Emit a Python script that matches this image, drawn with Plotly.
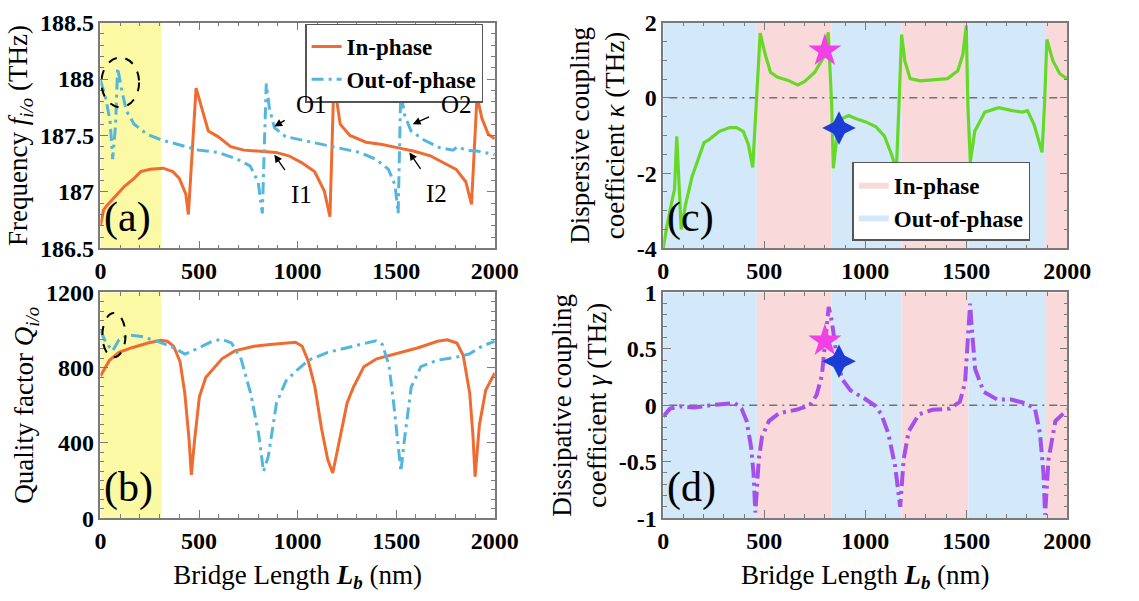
import plotly.graph_objects as go

# ---------------- data ----------------
# (a) resonance frequencies vs bridge length
fi_x = [0, 16, 33, 73, 122, 171, 204, 253, 318, 367, 400, 433, 446, 485, 514, 547, 596, 661, 727, 824,
        890, 955, 1020, 1086, 1135, 1164, 1184, 1216, 1265, 1347, 1429, 1510, 1592, 1673, 1739, 1804,
        1853, 1882, 1910, 1935, 1967, 2000]
fi_y = [186.70, 186.84, 186.88, 186.96, 187.05, 187.12, 187.18, 187.20, 187.21, 187.18, 187.12, 186.98,
        186.80, 187.92, 187.74, 187.54, 187.49, 187.40, 187.37, 187.36, 187.35, 187.32, 187.26, 187.18,
        187.01, 186.78, 187.98, 187.60, 187.50, 187.44, 187.42, 187.39, 187.36, 187.32, 187.26, 187.20,
        187.09, 186.89, 187.85, 187.65, 187.51, 187.47]
fo_x = [0, 24, 49, 62, 77, 87, 106, 131, 171, 237, 310, 400, 498, 596, 694, 759, 800, 821, 841, 857,
        882, 939, 1020, 1184, 1314, 1396, 1461, 1494, 1510, 1523, 1543, 1575, 1641, 1722, 1788, 1812,
        1853, 1918, 2000]
fo_y = [187.99, 187.85, 187.63, 187.29, 187.60, 188.10, 187.92, 187.72, 187.60, 187.51, 187.46, 187.42,
        187.37, 187.35, 187.29, 187.23, 187.09, 186.81, 187.96, 187.74, 187.57, 187.49, 187.46, 187.40,
        187.35, 187.29, 187.20, 187.06, 186.81, 187.88, 187.68, 187.54, 187.46, 187.39, 187.37, 187.40,
        187.37, 187.36, 187.33]

# (b) quality factors
qi_x = [0, 21, 46, 94, 160, 241, 306, 339, 371, 404, 428, 450, 461, 477, 502, 534, 567, 616, 681, 779,
        860, 941, 990, 1023, 1055, 1088, 1121, 1153, 1178, 1202, 1251, 1283, 1336, 1401, 1515, 1612,
        1710, 1759, 1808, 1840, 1873, 1889, 1900, 1922, 1954, 2000]
qi_y = [755, 797, 839, 881, 906, 931, 945, 940, 914, 831, 663, 411, 230, 411, 646, 747, 789, 847, 889, 914,
        923, 931, 935, 914, 831, 696, 478, 310, 240, 361, 612, 696, 805, 847, 881, 906,
        940, 948, 931, 864, 663, 444, 220, 495, 680, 772]
qo_x = [0, 29, 62, 94, 143, 208, 290, 371, 428, 485, 567, 616, 664, 713, 762, 803, 827, 851, 893, 941,
        990, 1055, 1153, 1251, 1349, 1397, 1430, 1463, 1487, 1511, 1524, 1541, 1576, 1625, 1707, 1805,
        1870, 1935, 2000]
qo_y = [998, 931, 889, 948, 973, 965, 940, 906, 872, 898, 940, 951, 931, 847, 663, 444, 248, 327, 612, 730,
        780, 839, 881, 906, 931, 943, 923, 814, 612, 361, 248, 411, 696, 805, 839, 856,
        872, 914, 940]

# (c) dispersive coupling kappa
k_x = [0, 17, 42, 56, 67, 79, 89, 110, 143, 177, 202, 227, 278, 329, 362, 396, 421, 443, 460, 472, 480,
       505, 531, 564, 615, 666, 699, 750, 792, 817, 834, 842, 859, 885, 918, 952, 1003, 1053, 1095,
       1129, 1154, 1168, 1180, 1196, 1222, 1272, 1340, 1407, 1458, 1483, 1500, 1508, 1520, 1542, 1592,
       1660, 1727, 1777, 1803, 1836, 1875, 1887, 1899, 1929, 1963, 2000]
k_y = [-4.0, -3.45, -2.77, -2.43, -1.02, -2.43, -3.50, -2.85, -2.09, -1.57, -1.19, -1.11, -0.89, -0.79,
       -0.79, -0.89, -1.23, -1.85, -0.21, 1.06, 1.72, 1.15, 0.68, 0.55, 0.47, 0.34, 0.43, 0.68, 1.06,
       1.74, -0.21, -1.87, -1.06, -0.55, -0.47, -0.55, -0.64, -0.77, -1.02, -1.49, -1.91, -0.04, 1.68,
       0.98, 0.51, 0.45, 0.47, 0.51, 0.72, 1.15, 1.92, -0.21, -1.70, -0.89, -0.38, -0.26, -0.34, -0.38,
       -0.34, -0.72, -1.45, -0.21, 1.55, 0.98, 0.64, 0.50]

# (d) dissipative coupling gamma
g_x = [0, 34, 84, 152, 236, 321, 354, 388, 413, 435, 447, 456, 473, 489, 523, 574, 658, 726, 759, 785,
       802, 819, 835, 861, 886, 928, 996, 1046, 1080, 1114, 1148, 1173, 1190, 1215, 1266, 1333, 1418,
       1468, 1494, 1511, 1519, 1527, 1544, 1586, 1654, 1722, 1789, 1840, 1865, 1882, 1890, 1907, 1941,
       2000]
g_y = [-0.10, -0.03, -0.01, -0.02, 0.00, 0.02, 0.02, -0.03, -0.14, -0.37, -0.60, -0.95, -0.48, -0.28,
       -0.14, -0.07, -0.04, 0.00, 0.09, 0.26, 0.54, 0.87, 0.74, 0.40, 0.23, 0.13, 0.06, 0.00, -0.08,
       -0.25, -0.54, -0.90, -0.48, -0.23, -0.08, -0.04, -0.03, 0.03, 0.20, 0.60, 0.90, 0.69, 0.32, 0.12,
       0.05, 0.05, 0.02, -0.03, -0.25, -0.60, -0.97, -0.48, -0.14, -0.04]

# highlighted operating points
star_k = (800, 1.25)
cross_k = (870, -0.80)
star_g = (800, 0.57)
cross_g = (870, 0.39)

# shaded regions (nm)
yellow_span = (0, 310)
phase_edges = [0, 463, 833, 1180, 1510, 1890, 2000]   # alternating out-of-phase / in-phase

# tick values and labels
x_ticks = [0, 500, 1000, 1500, 2000]
x_labels = ["0", "500", "1000", "1500", "2000"]
fa_ticks = [186.5, 187, 187.5, 188, 188.5]
fa_labels = ["186.5", "187", "187.5", "188", "188.5"]
qb_ticks = [0, 400, 800, 1200]
qb_labels = ["0", "400", "800", "1200"]
kc_ticks = [-4, -2, 0, 2]
kc_labels = ["-4", "-2", "0", "2"]
gd_ticks = [-1, -0.5, 0, 0.5, 1]
gd_labels = ["-1", "-0.5", "0", "0.5", "1"]

# ---------------- style ----------------
FONT = "Liberation Serif"
C_IN = "#EF6B30"
C_OUT = "#52B6DE"
C_K = "#66D928"
C_G = "#A650EC"
C_PINK = "#FAD9DA"
C_BLUE = "#D3E8F8"
C_YEL = "#FCF9A4"
FRAME = "#7a7a7a"
DASH_OUT = "12px,5px,3px,5px"
DASH_G = "15px,5px,3px,5px"

fig = go.Figure()

# background bands for (c) and (d)
def band_polys(i0, lo, hi):
    xs, ys = [], []
    for i in range(i0, len(phase_edges) - 1, 2):
        a, b = phase_edges[i], phase_edges[i + 1]
        xs += [a, b, b, a, a, None]
        ys += [lo, lo, hi, hi, lo, None]
    return xs, ys

for xa, ya, lo, hi, show in [("x3", "y3", -4, 2, True), ("x4", "y4", -1, 1, False)]:
    bx, by = band_polys(1, lo, hi)
    fig.add_trace(go.Scatter(x=bx, y=by, fill="toself", fillcolor=C_PINK, mode="lines",
                             line=dict(width=0, color=C_PINK), name="In-phase",
                             showlegend=show, legend="legend2", xaxis=xa, yaxis=ya,
                             hoverinfo="skip"))
    bx, by = band_polys(0, lo, hi)
    fig.add_trace(go.Scatter(x=bx, y=by, fill="toself", fillcolor=C_BLUE, mode="lines",
                             line=dict(width=0, color=C_BLUE), name="Out-of-phase",
                             showlegend=show, legend="legend2", xaxis=xa, yaxis=ya,
                             hoverinfo="skip"))

# yellow band in (a) and (b)
for xa, ya, lo, hi in [("x", "y", 186.5, 188.5), ("x2", "y2", 0, 1200)]:
    a, b = yellow_span
    fig.add_trace(go.Scatter(x=[a, b, b, a, a], y=[lo, lo, hi, hi, lo], fill="toself",
                             fillcolor=C_YEL, mode="lines", line=dict(width=0, color=C_YEL),
                             showlegend=False, xaxis=xa, yaxis=ya, hoverinfo="skip"))

# (a)
fig.add_trace(go.Scatter(x=fi_x, y=fi_y, mode="lines", name="In-phase",
                         line=dict(color=C_IN, width=3), xaxis="x", yaxis="y"))
fig.add_trace(go.Scatter(x=fo_x, y=fo_y, mode="lines", name="Out-of-phase",
                         line=dict(color=C_OUT, width=3, dash=DASH_OUT),
                         xaxis="x", yaxis="y"))
# (b)
fig.add_trace(go.Scatter(x=qi_x, y=qi_y, mode="lines", showlegend=False,
                         line=dict(color=C_IN, width=3), xaxis="x2", yaxis="y2"))
fig.add_trace(go.Scatter(x=qo_x, y=qo_y, mode="lines", showlegend=False,
                         line=dict(color=C_OUT, width=3, dash=DASH_OUT),
                         xaxis="x2", yaxis="y2"))

# zero reference lines
for xa, ya in [("x3", "y3"), ("x4", "y4")]:
    fig.add_trace(go.Scatter(x=[30, 1970], y=[0, 0], mode="lines", showlegend=False,
                             line=dict(color="#707070", width=1.5, dash="8px,5px,2px,5px"),
                             xaxis=xa, yaxis=ya, hoverinfo="skip"))

# (c)
fig.add_trace(go.Scatter(x=k_x, y=k_y, mode="lines", showlegend=False,
                         line=dict(color=C_K, width=3.2), xaxis="x3", yaxis="y3"))
# (d)
fig.add_trace(go.Scatter(x=g_x, y=g_y, mode="lines", showlegend=False,
                         line=dict(color=C_G, width=4, dash=DASH_G),
                         xaxis="x4", yaxis="y4"))

# markers: five-point star and a slim four-point star (two narrow diamonds crossed)
for (sx, sy), (cx, cy), xa, ya in [(star_k, cross_k, "x3", "y3"), (star_g, cross_g, "x4", "y4")]:
    fig.add_trace(go.Scatter(x=[sx], y=[sy], mode="markers", showlegend=False,
                             marker=dict(symbol="star", size=25, color="#F040E6",
                                         line=dict(width=0)), xaxis=xa, yaxis=ya))
    for sym in ["diamond-tall", "diamond-wide"]:
        fig.add_trace(go.Scatter(x=[cx], y=[cy], mode="markers", showlegend=False,
                                 marker=dict(symbol=sym, size=24, color="#1C3CD6",
                                             line=dict(width=0)), xaxis=xa, yaxis=ya))

# dashed ellipses marking the small-length anomaly
fig.add_shape(type="circle", xref="x", yref="y", x0=5, x1=196, y0=187.75, y1=188.19,
              line=dict(color="black", width=2, dash="dash"))
fig.add_shape(type="circle", xref="x2", yref="y2", x0=10, x1=127, y0=855, y1=1090,
              line=dict(color="black", width=2, dash="dash"))

# arrow labels in (a)
for txt, tx, ty, px, py in [("O1", 1069, 187.77, 882, 187.58), ("I1", 1020, 186.98, 882, 187.33),
                            ("O2", 1804, 187.77, 1584, 187.60), ("I2", 1706, 186.99, 1567, 187.35)]:
    fig.add_annotation(x=px, y=py, ax=tx, ay=ty, xref="x", yref="y", axref="x", ayref="y",
                       text=txt, showarrow=True, arrowhead=2, arrowsize=1.2, arrowwidth=1.3,
                       arrowcolor="black", standoff=0, startstandoff=11,
                       font=dict(family=FONT, size=25, color="black"))

# panel labels
for lab, xr_, yr_ in [("(a)", "x domain", "y domain"), ("(b)", "x2 domain", "y2 domain"),
                      ("(c)", "x3 domain", "y3 domain"), ("(d)", "x4 domain", "y4 domain")]:
    fig.add_annotation(x=0.005, y=0.025, xref=xr_, yref=yr_, text=lab, showarrow=False,
                       xanchor="left", yanchor="bottom",
                       font=dict(family=FONT, size=42, color="black"))

tickfont = dict(family=FONT, size=24, color="black", weight=700)
titlefont = dict(family=FONT, size=27, color="black")


def bold(labels):
    return ["<b>%s</b>" % s for s in labels]


def xaxis_cfg(domain, anchor, title=None):
    d = dict(domain=domain, anchor=anchor, range=[0, 2000],
             tickmode="array", tickvals=x_ticks, ticktext=bold(x_labels),
             ticks="inside", ticklen=8, tickwidth=1, tickcolor=FRAME,
             minor=dict(ticks="inside", ticklen=4, dtick=100, tick0=0, tickcolor=FRAME, showgrid=False),
             showline=True, linecolor=FRAME, linewidth=1.5, mirror="allticks",
             showgrid=False, zeroline=False, tickfont=tickfont)
    if title:
        d["title"] = dict(text=title, font=titlefont, standoff=12)
    return d


def yaxis_cfg(domain, anchor, rng, tv, tt, minor, title):
    return dict(domain=domain, anchor=anchor, range=rng,
                tickmode="array", tickvals=tv, ticktext=bold(tt),
                ticks="inside", ticklen=8, tickwidth=1, tickcolor=FRAME,
                minor=dict(ticks="inside", ticklen=4, dtick=minor, tick0=rng[0], tickcolor=FRAME,
                           showgrid=False),
                showline=True, linecolor=FRAME, linewidth=1.5, mirror="allticks",
                showgrid=False, zeroline=False, tickfont=tickfont,
                title=dict(text=title, font=titlefont, standoff=4))


xl = [97 / 1139, 502 / 1139]
xr = [675 / 1139, 1090 / 1139]
ytop = [1 - 246 / 601, 1 - 10 / 601]
ybot = [1 - 528 / 601, 1 - 292 / 601]
xlabel = "Bridge Length <b><i>L</i></b><sub><b><i>b</i></b></sub> (nm)"

legend_font = dict(family=FONT, size=23, color="black", weight="bold")

fig.update_layout(
    width=1139, height=601,
    margin=dict(l=0, r=0, t=0, b=0),
    paper_bgcolor="white", plot_bgcolor="white",
    font=dict(family=FONT, color="black"),
    xaxis=xaxis_cfg(xl, "y"),
    yaxis=yaxis_cfg(ytop, "x", [186.5, 188.5], fa_ticks, fa_labels, 0.1,
                    "Frequency <i>f</i><sub><i>i/o</i></sub> (THz)"),
    xaxis2=xaxis_cfg(xl, "y2", xlabel),
    yaxis2=yaxis_cfg(ybot, "x2", [0, 1200], qb_ticks, qb_labels, 50,
                     "Quality factor <i>Q</i><sub><i>i/o</i></sub>"),
    xaxis3=xaxis_cfg(xr, "y3"),
    yaxis3=yaxis_cfg(ytop, "x3", [-4, 2], kc_ticks, kc_labels, 0.5,
                     "Dispersive coupling<br>coefficient <i>κ</i> (THz)"),
    xaxis4=xaxis_cfg(xr, "y4", xlabel),
    yaxis4=yaxis_cfg(ybot, "x4", [-1, 1], gd_ticks, gd_labels, 0.1,
                     "Dissipative coupling<br>coefficient <i>γ</i> (THz)"),
    legend=dict(x=490 / 1139, y=1 - 11 / 601, xanchor="right", yanchor="top",
                bgcolor="white", bordercolor="#555", borderwidth=1.5,
                font=legend_font, tracegroupgap=0, itemwidth=30),
    legend2=dict(x=1052 / 1139, y=1 - 238 / 601, xanchor="right", yanchor="bottom",
                 bgcolor="white", bordercolor="#555", borderwidth=1.5,
                 font=legend_font, tracegroupgap=0, itemwidth=30),
)

fig.write_html("out.html")
